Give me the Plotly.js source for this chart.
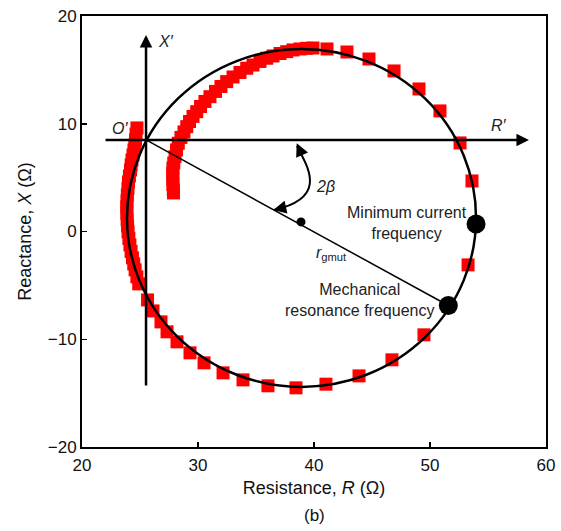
<!DOCTYPE html>
<html>
<head>
<meta charset="utf-8">
<script src="https://cdn.plot.ly/plotly-3.0.1.min.js"></script>
<style>
html,body{margin:0;padding:0;background:#fff;}
#chart{width:561px;height:531px;}
</style>
</head>
<body>
<div id="chart"></div>
<script>
// Measured impedance points: resistance R (ohm) and reactance X (ohm)
var R_ohm = [
  24.74,24.66,24.61,24.55,24.48,24.40,24.31,24.24,24.18,24.09,24.01,23.96,23.91,23.88,23.86,23.87,23.89,23.93,23.97,24.04,24.13,24.23,24.35,24.46,24.58,24.73,24.89,
  25.65,26.12,26.81,27.33,28.19,29.31,30.52,32.16,33.88,36.03,38.45,41.03,43.88,46.72,49.48,51.55,53.28,53.98,53.62,52.59,50.86,49.05,46.90,44.74,42.84,41.12,
  39.91,39.37,38.79,38.19,37.65,37.07,36.47,35.92,35.34,34.74,34.20,33.62,33.02,32.47,31.98,31.51,31.03,30.60,30.22,29.89,29.57,29.27,29.03,28.79,28.53,28.30,28.15,28.02,27.91,27.84,27.82,27.83,27.84,27.87,27.89
];
var X_ohm = [
  9.61,9.05,8.50,8.03,7.57,7.11,6.64,6.18,5.71,5.16,4.60,4.00,3.40,2.84,2.28,1.68,1.08,0.52,-0.04,-0.64,-1.24,-1.85,-2.45,-3.01,-3.56,-4.21,-4.86,
  -6.35,-7.37,-8.39,-9.31,-10.24,-11.26,-12.19,-13.12,-13.77,-14.32,-14.51,-14.17,-13.40,-11.91,-9.59,-6.90,-3.10,0.70,4.69,8.22,11.19,13.23,14.90,16.01,16.66,16.94,
  17.03,17.00,16.94,16.85,16.69,16.52,16.29,16.08,15.78,15.45,15.15,14.76,14.34,13.91,13.46,13.00,12.51,12.07,11.60,11.12,10.68,10.21,9.73,9.24,8.73,8.19,7.57,6.95,6.36,5.90,5.41,4.88,4.37,3.86,3.58
];

// Fitted circle extents (R min, R max, X min, X max)
var circleR = [23.88, 53.97];
var circleX = [-14.42, 16.94];

// Key points: circle centre, minimum current frequency, mechanical resonance frequency
var keyR = [38.88, 53.97, 51.58];
var keyX = [0.89, 0.70, -6.87];
var keySize = [9, 19, 19];

// Rotated axes origin O' and ends
var originR = 25.52, originX = 8.50;
var xPrimeBottom = -14.42, xPrimeTop = 18.24;
var rPrimeLeft = 21.90, rPrimeRight = 58.53;

var xTicks = [20, 30, 40, 50, 60];
var yTicks = [-20, -10, 0, 10, 20];

var FONT = 'Liberation Sans, Arial, Helvetica, sans-serif';
var TXT = '#111';

var traces = [
  {
    x: R_ohm, y: X_ohm, type: 'scatter', mode: 'markers',
    marker: {symbol: 'square', size: 13, color: '#ff0000', opacity: 1, line: {width: 0}},
    hoverinfo: 'x+y'
  },
  {
    x: keyR, y: keyX, type: 'scatter', mode: 'markers',
    marker: {symbol: 'circle', size: keySize, color: '#000000', opacity: 1, line: {width: 0}},
    hoverinfo: 'x+y'
  }
];

var shapes = [
  {type: 'circle', xref: 'x', yref: 'y', x0: circleR[0], x1: circleR[1], y0: circleX[0], y1: circleX[1],
   line: {color: 'black', width: 2.5}},
  {type: 'line', xref: 'x', yref: 'y', x0: originR, y0: originX, x1: keyR[2], y1: keyX[2],
   line: {color: 'black', width: 1.5}},
  {type: 'path', xref: 'x', yref: 'y', path: 'M38.53,7.94 C39.27,6.27 41.45,3.17 36.55,2.00',
   line: {color: 'black', width: 2}}
];

var annFont = {family: FONT, size: 16, color: '#222'};
var annotations = [
  // X' axis arrow
  {x: originR, y: xPrimeTop, ax: originR, ay: xPrimeBottom, xref: 'x', yref: 'y', axref: 'x', ayref: 'y',
   text: '', showarrow: true, arrowhead: 2, arrowsize: 1, arrowwidth: 2.5, arrowcolor: 'black', standoff: 0, startstandoff: 0},
  // R' axis arrow
  {x: rPrimeRight, y: originX, ax: rPrimeLeft, ay: originX, xref: 'x', yref: 'y', axref: 'x', ayref: 'y',
   text: '', showarrow: true, arrowhead: 2, arrowsize: 1, arrowwidth: 2.5, arrowcolor: 'black', standoff: 0, startstandoff: 0},
  // 2beta arrowheads
  {x: 38.51, y: 8.19, ax: 5, ay: 11, xref: 'x', yref: 'y',
   text: '', showarrow: true, arrowhead: 2, arrowsize: 1.3, arrowwidth: 2, arrowcolor: 'black', standoff: 0},
  {x: 36.49, y: 2.00, ax: 12, ay: -2.6, xref: 'x', yref: 'y',
   text: '', showarrow: true, arrowhead: 2, arrowsize: 1.3, arrowwidth: 2, arrowcolor: 'black', standoff: 0},
  {x: 23.28, y: 9.52, xref: 'x', yref: 'y', text: "<i>O′</i>", showarrow: false, font: annFont},
  {x: 27.28, y: 17.59, xref: 'x', yref: 'y', text: "<i>X′</i>", showarrow: false, font: annFont},
  {x: 55.95, y: 9.80, xref: 'x', yref: 'y', text: "<i>R′</i>", showarrow: false, font: annFont},
  {x: 41.03, y: 4.18, xref: 'x', yref: 'y', text: "<i>2β</i>", showarrow: false, font: annFont},
  {x: 41.47, y: -2.08, xref: 'x', yref: 'y', text: "<i>r</i><sub>gmut</sub>", showarrow: false, font: annFont},
  {x: 48.02, y: 0.75, xref: 'x', yref: 'y', text: "Minimum current<br>frequency", showarrow: false, align: 'center', font: annFont},
  {x: 43.88, y: -6.35, xref: 'x', yref: 'y', text: "Mechanical<br>resonance frequency", showarrow: false, align: 'center', font: annFont},
  {x: 0.5, y: -0.160, xref: 'paper', yref: 'paper', yanchor: 'middle', text: "(b)", showarrow: false, font: {family: FONT, size: 17, color: TXT}}
];

var layout = {
  width: 561, height: 531,
  margin: {l: 82, r: 15, t: 16, b: 84},
  paper_bgcolor: 'white', plot_bgcolor: 'white',
  showlegend: false,
  font: {family: FONT, size: 17, color: TXT},
  xaxis: {
    range: [20, 60], tickvals: xTicks, ticktext: xTicks.map(String),
    ticks: 'inside', ticklen: 5, tickwidth: 1.5, tickcolor: 'black',
    showline: true, linewidth: 2, linecolor: 'black', mirror: true,
    showgrid: false, zeroline: false, automargin: false,
    ticklabelstandoff: 2,
    tickfont: {family: FONT, size: 17, color: TXT},
    title: {text: 'Resistance, <i>R</i> (Ω)', standoff: 7, font: {family: FONT, size: 18, color: TXT}}
  },
  yaxis: {
    range: [-20, 20], tickvals: yTicks,
    ticks: 'inside', ticklen: 5, tickwidth: 1.5, tickcolor: 'black',
    showline: true, linewidth: 2, linecolor: 'black', mirror: true,
    showgrid: false, zeroline: false, automargin: false,
    tickfont: {family: FONT, size: 17, color: TXT},
    title: {text: 'Reactance, <i>X</i> (Ω)', standoff: 11, font: {family: FONT, size: 18, color: TXT}}
  },
  shapes: shapes,
  annotations: annotations
};

Plotly.newPlot('chart', traces, layout, {staticPlot: true, displayModeBar: false});
</script>
</body>
</html>
